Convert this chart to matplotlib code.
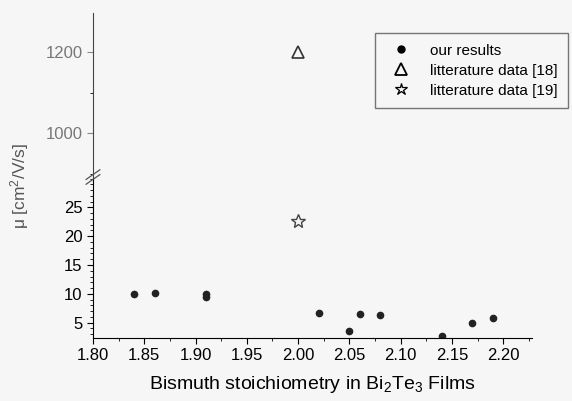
import numpy as np
import matplotlib
matplotlib.use("Agg")
import matplotlib.pyplot as plt
from matplotlib.ticker import MultipleLocator

plt.rcParams['font.family'] = ['Liberation Sans', 'DejaVu Sans']
plt.rcParams['mathtext.fontset'] = 'custom'
plt.rcParams['mathtext.rm'] = 'Liberation Sans'
plt.rcParams['mathtext.it'] = 'Liberation Sans:italic'

# our results (lower panel)
x_ours = [1.84, 1.86, 1.91, 1.91, 2.02, 2.05, 2.06, 2.08, 2.14, 2.17, 2.19]
mu_ours = [10.0, 10.2, 9.4, 9.9, 6.6, 3.6, 6.4, 6.3, 2.7, 5.0, 5.8]
# literature
x_lit18 = [2.00]
mu_lit18 = [1200]
x_lit19 = [2.00]
mu_lit19 = [22.6]

xticks = [1.80, 1.85, 1.90, 1.95, 2.00, 2.05, 2.10, 2.15, 2.20]
low_ticks = [5, 10, 15, 20, 25]
high_ticks = [1000, 1200]

bg = '#f6f6f6'
fig = plt.figure(figsize=(5.72, 4.01), dpi=100, facecolor=bg)
L, R = 0.1626, 0.930
ax_lo = fig.add_axes([L, 0.157, R - L, 0.5586 - 0.157])
ax_hi = fig.add_axes([L, 0.5586, R - L, 0.9676 - 0.5586], sharex=ax_lo)

for ax in (ax_lo, ax_hi):
    ax.set_facecolor(bg)
    ax.spines['top'].set_visible(False)
    ax.spines['right'].set_visible(False)
    ax.tick_params(direction='out', length=4, width=0.8, labelsize=12)
    ax.tick_params(which='minor', length=2, width=0.6)
ax_hi.spines['bottom'].set_visible(False)
ax_hi.tick_params(axis='x', which='both', bottom=False, labelbottom=False)
ax_hi.spines['left'].set_color('#444444')

# points
ax_lo.plot(x_ours, mu_ours, 'o', color='#222222', markersize=4.5, label='our results')
ax_hi.plot(x_lit18, mu_lit18, '^', mfc='none', mec='#333333', markersize=9, mew=1.2)
ax_lo.plot(x_lit19, mu_lit19, '*', mfc='none', mec='#444444', markersize=10, mew=1.0)

ax_lo.set_xlim(1.80, 2.228)
ax_lo.set_xticks(xticks)
ax_lo.set_xticklabels(['%.2f' % v for v in xticks])
ax_lo.xaxis.set_minor_locator(MultipleLocator(0.025))
ax_lo.set_ylim(2.3, 30.3)
ax_lo.set_yticks(low_ticks)
ax_lo.yaxis.set_minor_locator(MultipleLocator(1))

ax_hi.set_ylim(893, 1296)
ax_hi.set_yticks(high_ticks)
ax_hi.yaxis.set_minor_locator(MultipleLocator(100))
ax_hi.tick_params(axis='y', labelcolor='#777777', colors='#888888')

# break marks on the left spine
for dy in (-0.006, 0.006):
    fig.add_artist(plt.Line2D([L - 0.012, L + 0.012], [0.5586 + dy - 0.012, 0.5586 + dy + 0.012],
                              color='#555555', lw=0.9))

fig.text(0.546, 0.04, 'Bismuth stoichiometry in Bi$_2$Te$_3$ Films', ha='center', va='center',
         fontsize=14)
fig.text(0.035, 0.535, 'μ [cm$^2$/V/s]', rotation=90, ha='center', va='center',
         fontsize=12.5, color='#555555')

h1 = plt.Line2D([], [], ls='none', marker='o', color='black', markersize=5)
h2 = plt.Line2D([], [], ls='none', marker='^', mfc='none', mec='black', markersize=8, mew=1.3)
h3 = plt.Line2D([], [], ls='none', marker='*', mfc='none', mec='black', markersize=9, mew=0.9)
leg = fig.legend([h1, h2, h3], ['our results', 'litterature data [18]', 'litterature data [19]'],
                 loc='upper right', bbox_to_anchor=(0.993, 0.918), fontsize=11,
                 frameon=True, fancybox=False, edgecolor='#555555', facecolor=bg,
                 handletextpad=0.9, labelspacing=0.4, borderpad=0.7, handlelength=2.0,
                 borderaxespad=0)
leg.get_frame().set_linewidth(1.0)

fig.savefig('out.png', dpi=100, facecolor=bg)
